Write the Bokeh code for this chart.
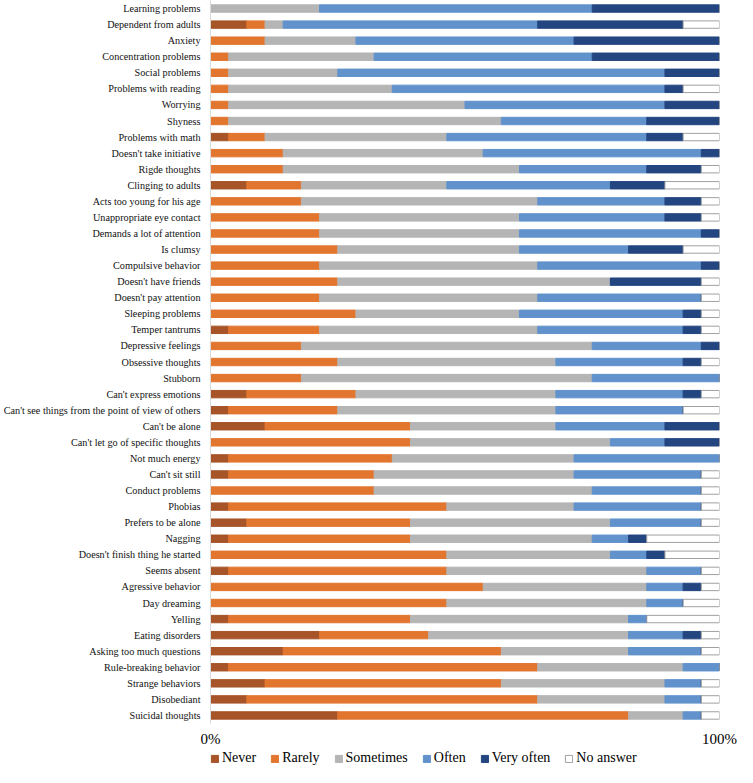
from bokeh.plotting import figure
from bokeh.layouts import column
from bokeh.models import ColumnDataSource, FactorRange, Legend, LegendItem, FixedTicker
from bokeh.embed import file_html
from bokeh.resources import INLINE

categories = [
    "Learning problems", "Dependent from adults", "Anxiety", "Concentration problems",
    "Social problems", "Problems with reading", "Worrying", "Shyness", "Problems with math",
    "Doesn't take initiative", "Rigde thoughts", "Clinging to adults",
    "Acts too young for his age", "Unappropriate eye contact", "Demands a lot of attention",
    "Is clumsy", "Compulsive behavior", "Doesn't have friends", "Doesn't pay attention",
    "Sleeping problems", "Temper tantrums", "Depressive feelings", "Obsessive thoughts",
    "Stubborn", "Can't express emotions",
    "Can't see things from the point of view of others", "Can't be alone",
    "Can't let go of specific thoughts", "Not much energy", "Can't sit still",
    "Conduct problems", "Phobias", "Prefers to be alone", "Nagging",
    "Doesn't finish thing he started", "Seems absent", "Agressive behavior", "Day dreaming",
    "Yelling", "Eating disorders", "Asking too much questions", "Rule-breaking behavior",
    "Strange behaviors", "Disobediant", "Suicidal thoughts",
]

# number of answers per category
never = [0, 2, 0, 0, 0, 0, 0, 0, 1, 0, 0, 2, 0, 0, 0, 0, 0, 0, 0, 0, 1, 0, 0, 0, 2,
         1, 3, 0, 1, 1, 0, 1, 2, 1, 0, 1, 0, 0, 1, 6, 4, 1, 3, 2, 7]
rarely = [0, 1, 3, 1, 1, 1, 1, 1, 2, 4, 4, 3, 5, 6, 6, 7, 6, 7, 6, 8, 5, 5, 7, 5, 6,
          6, 8, 11, 9, 8, 9, 12, 9, 10, 13, 12, 15, 13, 10, 6, 12, 17, 13, 16, 16]
sometimes = [6, 1, 5, 8, 6, 9, 13, 15, 10, 11, 13, 8, 13, 11, 11, 10, 12, 15, 12, 9, 12, 16, 12, 16, 11,
             12, 8, 11, 10, 11, 12, 7, 11, 10, 9, 11, 9, 11, 12, 11, 7, 8, 9, 7, 3]
often = [15, 14, 12, 12, 18, 15, 11, 8, 11, 12, 7, 9, 7, 8, 10, 6, 9, 0, 9, 9, 8, 6, 7, 7, 7,
         7, 6, 3, 8, 7, 6, 7, 5, 2, 2, 3, 2, 2, 1, 3, 4, 2, 2, 2, 1]
very_often = [7, 8, 8, 7, 3, 1, 3, 4, 2, 1, 3, 3, 2, 2, 1, 3, 1, 5, 0, 1, 1, 1, 1, 0, 1,
              0, 3, 3, 0, 0, 0, 0, 0, 1, 1, 0, 1, 0, 0, 1, 0, 0, 0, 0, 0]
no_answer = [0, 2, 0, 0, 0, 2, 0, 0, 2, 0, 1, 3, 1, 1, 0, 2, 0, 1, 1, 1, 1, 0, 1, 0, 1,
             2, 0, 0, 0, 1, 1, 1, 1, 4, 3, 1, 1, 2, 4, 1, 1, 0, 1, 1, 1]

series_names = ["Never", "Rarely", "Sometimes", "Often", "Very often", "No answer"]
series_values = [never, rarely, sometimes, often, very_often, no_answer]
tick_labels = {0: "0%", 100: "100%"}

fill_colors = ["#a65428", "#e2762f", "#b5b5b5", "#6192cc", "#234580", "#ffffff"]
line_colors = ["#a65428", "#e2762f", "#b5b5b5", "#6192cc", "#234580", "#a0a0a0"]

totals = [sum(row) for row in zip(*series_values)]
data = {"cat": categories}
for name, vals in zip(series_names, series_values):
    data[name] = [100.0 * v / t for v, t in zip(vals, totals)]
source = ColumnDataSource(data)

SERIF = "Liberation Serif"

# ---- main chart ----
p = figure(width=737, height=749,
           y_range=FactorRange(factors=categories[::-1]),
           x_range=(0, 100),
           output_backend="svg", toolbar_location=None,
           min_border_left=202, min_border_right=18,
           min_border_top=0, min_border_bottom=0)
p.outline_line_color = None
p.xgrid.grid_line_color = None
p.ygrid.grid_line_color = None
p.background_fill_color = "white"
p.border_fill_color = "white"

p.hbar_stack(series_names, y="cat", height=0.46, source=source,
             fill_color=fill_colors, line_color=line_colors, line_width=1)

p.xaxis.ticker = FixedTicker(ticks=[0, 100])
p.xaxis.major_label_overrides = tick_labels
p.xaxis.axis_line_color = None
p.xaxis.major_tick_line_color = None
p.xaxis.minor_tick_line_color = None
p.xaxis.major_label_text_font = SERIF
p.xaxis.major_label_text_font_size = "15px"
p.xaxis.major_label_text_color = "black"
p.xaxis.major_label_standoff = 1

p.yaxis.axis_line_color = "#d9d9d9"
p.yaxis.major_tick_line_color = None
p.yaxis.minor_tick_line_color = None
p.yaxis.major_label_text_font = SERIF
p.yaxis.major_label_text_font_size = "10.2px"
p.yaxis.major_label_text_color = "#111111"
p.yaxis.major_label_standoff = 4

# ---- legend strip (hidden copies of the series, used only for the legend swatches) ----
lg = figure(width=737, height=18, output_backend="svg", toolbar_location=None,
            y_range=FactorRange(factors=categories[::-1]), x_range=(0, 100),
            x_axis_type=None, y_axis_type=None,
            min_border_left=0, min_border_right=0, min_border_top=0, min_border_bottom=0)
lg.outline_line_color = None
lg.xgrid.grid_line_color = None
lg.ygrid.grid_line_color = None
lg_renderers = lg.hbar_stack(series_names, y="cat", height=0.46, source=source,
                             fill_color=fill_colors, line_color=line_colors, line_width=1)
for r in lg_renderers:
    r.visible = False

legend = Legend(items=[LegendItem(label=n, renderers=[r]) for n, r in zip(series_names, lg_renderers)],
                orientation="horizontal", location=(0, 1),
                glyph_width=9, glyph_height=9, label_standoff=3, spacing=14,
                label_text_font=SERIF, label_text_font_size="14px", label_text_color="black",
                label_height=16, padding=0, margin=0,
                inactive_fill_alpha=0,
                border_line_color=None, background_fill_alpha=0)
lg.add_layout(legend)

layout = column(p, lg, spacing=0)
open("out.html", "w").write(file_html(layout, INLINE))
